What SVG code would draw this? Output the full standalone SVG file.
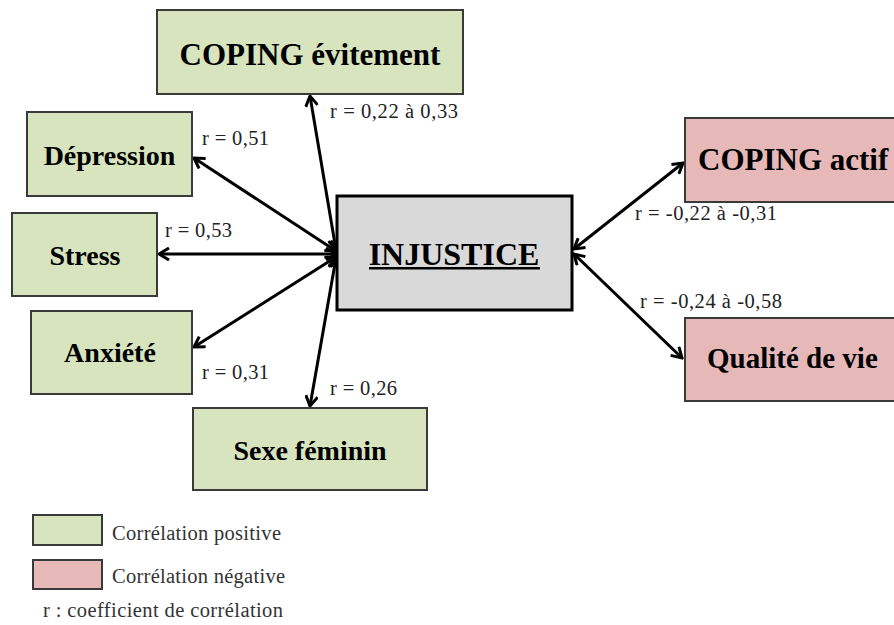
<svg xmlns="http://www.w3.org/2000/svg" width="894" height="625" viewBox="0 0 894 625">
<defs>
<marker id="ah" viewBox="0 0 14 14" refX="12" refY="7" markerWidth="14" markerHeight="14" markerUnits="userSpaceOnUse" orient="auto-start-reverse">
<path d="M2,1 L12,7 L2,13" fill="none" stroke="#000" stroke-width="3" stroke-linejoin="miter"/>
</marker>
</defs>
<style>
.g{fill:#d7e4bd;stroke:#3a3a3a;stroke-width:2}
.p{fill:#e6b9b8;stroke:#3a3a3a;stroke-width:2}
.c{fill:#d9d9d9;stroke:#000;stroke-width:3}
.t{font-family:"Liberation Serif","Times New Roman",serif;font-weight:bold;fill:#000}
.l{font-family:"Liberation Serif","Times New Roman",serif;font-size:20.5px;fill:#222}
.e{stroke:#000;stroke-width:3;fill:none;marker-start:url(#ah);marker-end:url(#ah)}
</style>
<rect width="894" height="625" fill="#fff"/>
<g id="connectors">
<line class="e" x1="310" y1="96" x2="336" y2="250"/>
<line class="e" x1="194" y1="158" x2="336" y2="251"/>
<line class="e" x1="159" y1="254" x2="336" y2="254"/>
<line class="e" x1="194" y1="347" x2="336" y2="257"/>
<line class="e" x1="310" y1="406" x2="336" y2="258"/>
<line class="e" x1="574" y1="249" x2="683" y2="163"/>
<line class="e" x1="574" y1="254" x2="682" y2="358"/>
</g>
<g id="n-injustice">
<rect class="c" x="337" y="196" width="235" height="114"/>
<text class="t" x="454" y="265" font-size="32" text-anchor="middle">INJUSTICE</text>
<rect x="369" y="267" width="171" height="2.5" fill="#000"/>
</g>
<g id="n-coping-evitement">
<rect class="g" x="157" y="10" width="306" height="84"/>
<text class="t" x="310" y="65" font-size="31" text-anchor="middle">COPING évitement</text>
</g>
<g id="n-depression">
<rect class="g" x="27" y="112" width="165" height="84"/>
<text class="t" x="109.5" y="165" font-size="28" text-anchor="middle">Dépression</text>
</g>
<g id="n-stress">
<rect class="g" x="12" y="213" width="145" height="83"/>
<text class="t" x="85" y="265" font-size="28" text-anchor="middle">Stress</text>
</g>
<g id="n-anxiete">
<rect class="g" x="31" y="311" width="161" height="83"/>
<text class="t" x="110" y="362" font-size="28" text-anchor="middle">Anxiété</text>
</g>
<g id="n-sexe">
<rect class="g" x="193" y="408" width="234" height="82"/>
<text class="t" x="310" y="460" font-size="28" text-anchor="middle">Sexe féminin</text>
</g>
<g id="n-coping-actif">
<rect class="p" x="685" y="118" width="220" height="84"/>
<text class="t" x="698" y="170" font-size="31">COPING actif</text>
</g>
<g id="n-qualite">
<rect class="p" x="685" y="318" width="220" height="83"/>
<text class="t" x="707" y="368" font-size="29">Qualité de vie</text>
</g>
<g id="labels">
<text class="l" x="330" y="118" textLength="128">r = 0,22 à 0,33</text>
<text class="l" x="202" y="145" textLength="67">r = 0,51</text>
<text class="l" x="165" y="237" textLength="67">r = 0,53</text>
<text class="l" x="202" y="379" textLength="67">r = 0,31</text>
<text class="l" x="330" y="395" textLength="67">r = 0,26</text>
<text class="l" x="635" y="220" textLength="142">r = -0,22 à -0,31</text>
<text class="l" x="640" y="308" textLength="142">r = -0,24 à -0,58</text>
</g>
<g id="legend">
<rect class="g" x="33" y="515" width="69" height="30"/>
<rect class="p" x="33" y="560" width="69" height="29"/>
<text class="l" x="112" y="540" textLength="169" style="fill:#333">Corrélation positive</text>
<text class="l" x="112" y="583" textLength="173" style="fill:#333">Corrélation négative</text>
<text class="l" x="43" y="617" textLength="240" style="fill:#333">r : coefficient de corrélation</text>
</g>
</svg>
